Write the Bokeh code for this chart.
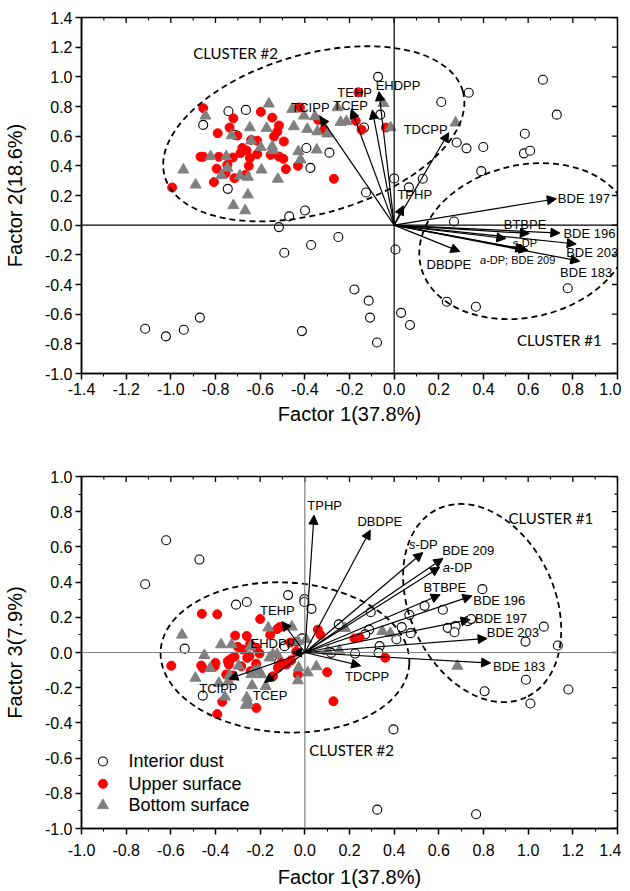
import math
import numpy as np
from bokeh.plotting import figure
from bokeh.models import (ColumnDataSource, Arrow, NormalHead, Span, FixedTicker,
                          NumeralTickFormatter, Range1d)
from bokeh.layouts import column
from bokeh.embed import file_html
from bokeh.resources import INLINE
from bokeh.core.properties import value

FONT = "Liberation Sans"
CFONT = "Lato"

# ---------------- data: top panel (Factor 1 vs Factor 2) ----------------
top_dust_x = [-0.742, -0.664, -0.855, -0.715, -0.393, -0.29, -0.375, -0.745, -0.126, 0.0, 0.066, 0.128,
              -0.072, -0.062, -0.135, -0.47, -0.399, -0.516, 0.268, 0.006, -0.25, -0.372, -0.492, -0.178,
              -0.114, -0.108, 0.031, 0.071, -0.077, -0.413, -0.87, -0.942, -1.022, -1.115, 0.236, 0.366,
              0.777, 0.39, 0.211, 0.334, 0.666, 0.728, 0.585, 0.581, 0.609, 0.28, 0.324, 0.399]
top_dust_y = [0.768, 0.777, 0.676, 0.61, 0.52, 0.489, 0.386, 0.245, 0.22, 0.315, 0.255, 0.313,
              1.0, 0.745, 0.658, 0.059, 0.099, -0.013, 0.025, -0.164, -0.08, -0.134, -0.186, -0.434,
              -0.509, -0.623, -0.591, -0.673, -0.791, -0.714, -0.623, -0.705, -0.75, -0.698, -0.516, -0.55,
              -0.425, 0.364, 0.83, 0.893, 0.98, 0.745, 0.616, 0.484, 0.502, 0.557, 0.518, 0.527]

top_upper_x = [-0.855, -0.994, -0.72, -0.597, -0.546, -0.79, -0.737, -0.516, -0.523, -0.538, -0.494,
               -0.702, -0.613, -0.64, -0.68, -0.661, -0.867, -0.855, -0.785, -0.722, -0.688, -0.646,
               -0.613, -0.553, -0.516, -0.496, -0.747, -0.795, -0.651, -0.431, -0.485, -0.755, -0.665,
               -0.807, -0.715, -0.27, -0.422, -0.34, -0.314, -0.16, -0.172, -0.146, -0.037]
top_upper_y = [0.789, 0.254, 0.72, 0.764, 0.725, 0.62, 0.658, 0.672, 0.631, 0.598, 0.564,
               0.604, 0.569, 0.575, 0.52, 0.503, 0.461, 0.461, 0.461, 0.456, 0.486, 0.452,
               0.479, 0.474, 0.463, 0.447, 0.407, 0.38, 0.40, 0.40, 0.378, 0.351, 0.34,
               0.29, 0.317, 0.313, 0.793, 0.71, 0.643, 0.896, 0.703, 0.643, 0.658]

top_bottom_x = [-0.845, -0.561, -0.728, -0.646, -0.571, -0.64, -0.598, -0.546, -0.543, -0.822, -0.752,
                -0.747, -0.774, -0.944, -0.889, -0.691, -0.655, -0.594, -0.521, -0.655, -0.72, -0.667,
                -0.456, -0.404, -0.355, -0.449, -0.389, -0.344, -0.299, -0.254, -0.24, -0.214, -0.048,
                -0.016, -0.429, -0.419, -0.347, 0.275]
top_bottom_y = [0.737, 0.818, 0.604, 0.658, 0.654, 0.569, 0.526, 0.53, 0.503, 0.463, 0.463,
                0.385, 0.335, 0.373, 0.272, 0.333, 0.324, 0.373, 0.311, 0.205, 0.133, 0.098,
                0.782, 0.737, 0.732, 0.665, 0.647, 0.631, 0.616, 0.793, 0.694, 0.699, 0.822,
                0.658, 0.497, 0.441, 0.508, 0.69]

# ---------------- data: bottom panel (Factor 1 vs Factor 3) ----------------
bot_dust_x = [-0.621, -0.472, -0.715, -0.075, -0.002, -0.002, 0.03, -0.308, -0.26, 0.152, 0.295, 0.288,
              0.27, 0.41, 0.434, 0.474, 0.468, 0.536, 0.618, 0.795, 0.64, 0.675, 0.67, 0.73, 0.745,
              0.988, 1.07, 1.133, -0.538, -0.012, -0.091, 0.225, 0.335, 0.33, 0.118, -0.457, 0.397,
              0.324, 0.767, -0.115, 0.99, 0.805, 1.01, 1.18]
bot_dust_y = [0.638, 0.528, 0.388, 0.326, 0.303, 0.287, 0.248, 0.272, 0.287, 0.16, 0.229, 0.13,
              0.103, 0.075, 0.144, 0.11, 0.214, 0.265, 0.243, 0.36, 0.14, 0.15, 0.115, 0.178, 0.19,
              0.062, 0.147, 0.04, 0.022, 0.08, 0.036, -0.006, 0.036, -0.002, -0.002, -0.245, -0.437,
              -0.893, -0.919, -0.055, -0.155, -0.22, -0.29, -0.21]

bot_upper_x = [-0.461, -0.392, -0.2, -0.124, -0.112, -0.155, -0.312, -0.26, 0.058, 0.07, 0.222, 0.245,
               -0.3, -0.278, -0.248, -0.258, -0.218, -0.203, -0.598, -0.464, -0.457, -0.4, -0.404,
               -0.345, -0.34, -0.33, -0.315, -0.285, -0.218, -0.243, -0.352, -0.322, -0.143, -0.121,
               -0.106, -0.083, -0.061, -0.039, -0.031, 0.1, 0.36, 0.128, -0.37, -0.392, -0.217,
               -0.065, -0.037, -0.245]
bot_upper_y = [0.22, 0.217, 0.19, 0.133, 0.145, 0.1, 0.096, 0.094, 0.13, 0.1, 0.08, 0.085,
               0.032, 0.017, -0.021, -0.03, 0.027, -0.006, -0.075, -0.074, -0.088, -0.059, -0.078,
               -0.049, -0.068, -0.036, -0.024, -0.078, -0.064, -0.106, -0.125, -0.131, -0.135, -0.087,
               -0.059, -0.068, -0.044, 0.004, -0.125, -0.112, -0.03, -0.277, -0.28, -0.35, -0.315,
               0.057, 0.06, 0.048]

bot_bottom_x = [-0.55, -0.375, -0.328, -0.45, -0.164, -0.058, -0.143, -0.124, -0.158, -0.195, -0.225,
                -0.24, -0.337, -0.49, -0.424, -0.342, -0.358, -0.236, -0.175, -0.26, -0.254, -0.264,
                -0.028, 0.013, -0.031, 0.052, 0.103, 0.155, 0.18, 0.347, 0.383, 0.006, -0.031, 0.683,
                -0.296, -0.385, -0.208, -0.244]
bot_bottom_y = [0.1, 0.045, 0.045, -0.016, 0.14, 0.146, -0.011, -0.011, -0.03, -0.125, -0.106,
                -0.125, -0.131, -0.145, -0.09, -0.163, -0.252, -0.188, -0.192, -0.257, -0.286, -0.299,
                -0.087, -0.115, -0.16, -0.08, 0.007, 0.01, 0.138, 0.12, 0.109, 0.074, 0.064, -0.077,
                -0.076, -0.174, -0.098, 0.032]

# ---------------- loadings (arrows) ----------------
load_names = ["TCIPP", "TCEP", "TEHP", "EHDPP", "TDCPP", "TPHP", "BDE 197", "BTBPE", "BDE 196",
              "s-DP", "BDE 203", "a-DP", "BDE 209", "BDE 183", "DBDPE"]
top_load_f1 = [-0.332, -0.192, -0.098, -0.068, 0.244, 0.041, 0.726, 0.605, 0.742,
               0.50, 0.815, 0.600, 0.585, 0.831, 0.294]
top_load_f2 = [0.732, 0.782, 0.777, 0.90, 0.623, 0.131, 0.178, -0.056, -0.053,
               -0.09, -0.127, -0.17, -0.163, -0.243, -0.178]
bot_load_f1 = [-0.34, -0.18, -0.102, -0.055, 0.25, 0.041, 0.74, 0.606, 0.748,
               0.528, 0.816, 0.604, 0.618, 0.832, 0.293]
bot_load_f3 = [-0.15, -0.17, 0.176, 0.0, -0.075, 0.78, 0.187, 0.328, 0.322,
               0.568, 0.08, 0.485, 0.534, -0.06, 0.695]

# ---------------- ticks ----------------
top_xticks = [-1.4, -1.2, -1.0, -0.8, -0.6, -0.4, -0.2, 0.0, 0.2, 0.4, 0.6, 0.8, 1.0]
top_yticks = [-1.0, -0.8, -0.6, -0.4, -0.2, 0.0, 0.2, 0.4, 0.6, 0.8, 1.0, 1.2, 1.4]
bot_xticks = [-1.0, -0.8, -0.6, -0.4, -0.2, 0.0, 0.2, 0.4, 0.6, 0.8, 1.0, 1.2, 1.4]
bot_yticks = [-1.0, -0.8, -0.6, -0.4, -0.2, 0.0, 0.2, 0.4, 0.6, 0.8, 1.0]

legend_labels = ["Interior dust", "Upper surface", "Bottom surface"]


def minors(ticks):
    out = []
    for a, b in zip(ticks[:-1], ticks[1:]):
        out.append(round((a + b) / 2, 3))
    return out


def make_fig(xt, yt, height, btop, bbot, ylabel, y_minor, zero_color, xl_standoff, xt_standoff):
    p = figure(width=621, height=height, x_range=Range1d(xt[0], xt[-1]), y_range=Range1d(yt[0], yt[-1]),
               output_backend="svg", toolbar_location=None,
               min_border_left=81, min_border_right=4, min_border_top=btop, min_border_bottom=bbot)
    p.grid.visible = False
    p.outline_line_color = "black"
    p.outline_line_width = 1.5
    xmin_t = minors(xt)
    ymin_t = minors(yt) if y_minor else []
    xtick = FixedTicker(ticks=xt, minor_ticks=xt + xmin_t)
    ytick = FixedTicker(ticks=yt, minor_ticks=yt + ymin_t)
    fmt = NumeralTickFormatter(format="0.0")
    xa, ya = p.xaxis[0], p.yaxis[0]
    xa.ticker, ya.ticker = xtick, ytick
    xa.formatter, ya.formatter = fmt, fmt
    for ax in (xa, ya):
        ax.axis_line_width = 1.5
        ax.major_tick_line_width = 1.5
        ax.major_tick_out = 6
        ax.major_tick_in = 0
        ax.minor_tick_out = 3
        ax.minor_tick_in = 0
        ax.major_label_text_font = FONT
        ax.major_label_text_font_size = "16px"
        ax.major_label_text_color = "black"
        ax.axis_label_text_font = FONT
        ax.axis_label_text_font_size = "20px"
        ax.axis_label_text_font_style = "normal"
        ax.axis_label_text_color = "black"
    if not y_minor:
        ya.minor_tick_out = 0
    xa.axis_label = "Factor 1(37.8%)"
    ya.axis_label = ylabel
    xa.major_label_standoff = xl_standoff
    xa.axis_label_standoff = xt_standoff
    ya.major_label_standoff = 3
    ya.axis_label_standoff = 16
    # inward ticks on the top and right edges of the frame (half of each dash is clipped)
    top_edge = [yt[-1]] * len(xt)
    p.scatter(xt, top_edge, marker="dash", angle=math.pi / 2, size=11, line_color="black", line_width=1.3)
    p.scatter(xmin_t, [yt[-1]] * len(xmin_t), marker="dash", angle=math.pi / 2, size=6,
              line_color="black", line_width=1.1)
    p.scatter([xt[-1]] * len(yt), yt, marker="dash", size=11, line_color="black", line_width=1.3)
    if ymin_t:
        p.scatter([xt[-1]] * len(ymin_t), ymin_t, marker="dash", size=6, line_color="black", line_width=1.1)
    p.add_layout(Span(location=0, dimension="width", line_color=zero_color, line_width=1.2))
    p.add_layout(Span(location=0, dimension="height", line_color=zero_color, line_width=1.2))
    return p


def add_points(p, dx, dy, ux, uy, bx, by):
    p.scatter(dx, dy, marker="circle", size=9, fill_color="white", line_color="black", line_width=1.1)
    p.scatter(ux, uy, marker="circle", size=9, fill_color="#ff0000", line_color="#ff0000")
    p.scatter(bx, by, marker="triangle", size=11, fill_color="#808080", line_color="#808080")


def add_arrows(p, fx, fy):
    n = len(fx)
    src = ColumnDataSource(dict(x0=[0.0] * n, y0=[0.0] * n, x1=fx, y1=fy))
    p.add_layout(Arrow(end=NormalHead(size=9, fill_color="black", line_color="black", line_width=1),
                       x_start="x0", y_start="y0", x_end="x1", y_end="y1", source=src,
                       line_color="black", line_width=1.2))


def add_ellipses(p, cx, cy, w, h, ang):
    p.ellipse(x=cx, y=cy, width=w, height=h, angle=[math.radians(a) for a in ang],
              width_units="screen", height_units="screen", fill_color=None,
              line_color="black", line_dash="6 4", line_width=1.8)


def label(p, txt, x, y, align="left", size=13, italic=None, font=FONT):
    if italic:
        p.text(x=[x], y=[y], text=[italic], text_font=value(font), text_font_size=f"{size}px",
               text_font_style="italic", text_align="right", text_baseline="middle", text_color="black")
        align = "left"
    p.text(x=[x], y=[y], text=[txt], text_font=value(font), text_font_size=f"{size}px",
           text_align=align, text_baseline="middle", text_color="black")


# ---------------- top figure ----------------
p1 = make_fig(top_xticks, top_yticks, 435, 17, 62, "Factor 2(18.6%)", False, "black", 3, 5)
add_points(p1, top_dust_x, top_dust_y, top_upper_x, top_upper_y, top_bottom_x, top_bottom_y)
add_ellipses(p1, [-0.36, 0.585], [0.616, -0.108], [310, 214], [159, 152], [16, 13.5])
add_arrows(p1, top_load_f1, top_load_f2)
label(p1, "TCIPP", -0.375, 0.793, "center")
label(p1, "TCEP", -0.195, 0.806, "center")
label(p1, "TEHP", -0.177, 0.894, "center")
label(p1, "EHDPP", -0.083, 0.94, "left")
label(p1, "TDCPP", 0.141, 0.648, "center")
label(p1, "TPHP", 0.092, 0.205, "center")
label(p1, "BDE 197", 0.733, 0.178)
label(p1, "BTBPE", 0.586, 0.005, "center")
label(p1, "BDE 196", 0.758, -0.057)
label(p1, "-DP", 0.555, -0.12, size=11, italic="s")
label(p1, "BDE 203", 0.77, -0.183)
label(p1, "-DP; BDE 209", 0.412, -0.232, size=11, italic="a")
label(p1, "BDE 183", 0.743, -0.317)
label(p1, "DBDPE", 0.245, -0.266, "center")
label(p1, "CLUSTER #2", -0.9, 1.16, size=15, font=CFONT)
label(p1, "CLUSTER #1", 0.55, -0.777, size=15, font=CFONT)

# ---------------- bottom figure ----------------
p2 = make_fig(bot_xticks, bot_yticks, 455, 41, 62, "Factor 3(7.9%)", True, "#808080", 9, 7)
add_points(p2, bot_dust_x, bot_dust_y, bot_upper_x, bot_upper_y, bot_bottom_x, bot_bottom_y)
add_ellipses(p2, [-0.089, 0.794], [-0.028, 0.281], [249, 208], [150, 145], [-3, -65])
add_arrows(p2, bot_load_f1, bot_load_f3)
label(p2, "TPHP", 0.011, 0.837)
label(p2, "DBDPE", 0.336, 0.746, "center")
label(p2, "-DP", 0.495, 0.612, italic="s")
label(p2, "BDE 209", 0.615, 0.578)
label(p2, "-DP", 0.650, 0.483, italic="a")
label(p2, "BTBPE", 0.627, 0.37, "center")
label(p2, "BDE 196", 0.754, 0.295)
label(p2, "BDE 197", 0.762, 0.193)
label(p2, "BDE 203", 0.815, 0.115)
label(p2, "BDE 183", 0.843, -0.077)
label(p2, "TDCPP", 0.279, -0.136, "center")
label(p2, "TCIPP", -0.387, -0.206, "center")
label(p2, "TCEP", -0.156, -0.245, "center")
label(p2, "EHDPP", -0.143, 0.051, "center")
label(p2, "TEHP", -0.123, 0.237, "center")
label(p2, "CLUSTER #1", 0.912, 0.765, size=15, font=CFONT)
label(p2, "CLUSTER #2", 0.02, -0.553, size=15, font=CFONT)

# legend (manual, inside lower-left corner)
leg_mx, leg_tx = -0.904, -0.79
leg_rows = [-0.619, -0.746, -0.869]
p2.scatter([leg_mx], [leg_rows[0]], marker="circle", size=9, fill_color="white", line_color="black", line_width=1.1)
p2.scatter([leg_mx], [leg_rows[1]], marker="circle", size=9, fill_color="#ff0000", line_color="#ff0000")
p2.scatter([leg_mx], [leg_rows[2]], marker="triangle", size=11, fill_color="#808080", line_color="#808080")
for lab, ry in zip(legend_labels, leg_rows):
    label(p2, lab, leg_tx, ry, size=18)

layout = column(p1, p2, spacing=0)
open("out.html", "w").write(file_html(layout, INLINE))
